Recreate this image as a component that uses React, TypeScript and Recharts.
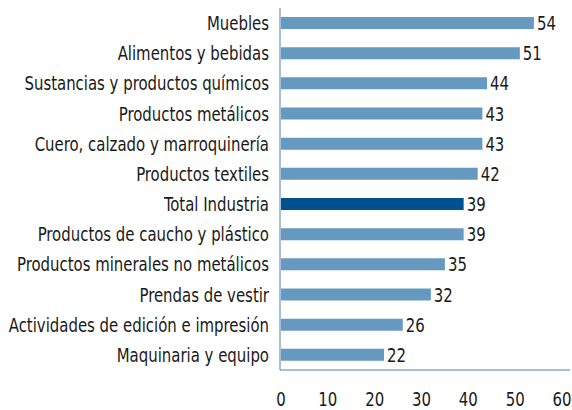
import { BarChart, Bar, XAxis, YAxis, Cell, LabelList } from 'recharts';

const categories = [
  'Muebles',
  'Alimentos y bebidas',
  'Sustancias y productos químicos',
  'Productos metálicos',
  'Cuero, calzado y marroquinería',
  'Productos textiles',
  'Total Industria',
  'Productos de caucho y plástico',
  'Productos minerales no metálicos',
  'Prendas de vestir',
  'Actividades de edición e impresión',
  'Maquinaria y equipo',
];

const values = [54, 51, 44, 43, 43, 42, 39, 39, 35, 32, 26, 22];

const xTicks = [0, 10, 20, 30, 40, 50, 60];

const highlight = 'Total Industria';

const FONT = '"DejaVu Sans Condensed", "DejaVu Sans", sans-serif';
const FONT_SIZE = 20;
const SQUEEZE = 0.83; // the source text is narrower than any installed font
const TEXT_COLOR = '#1a1a1a';
const AXIS_COLOR = '#4a7ebb';

// squeezed text drawn at (x, y)
function Squeezed({ x, y, anchor, children }: any) {
  return (
    <text
      transform={`translate(${x},${y}) scale(${SQUEEZE},1)`}
      textAnchor={anchor}
      dominantBaseline="central"
      fill={TEXT_COLOR}
      fontFamily={FONT}
      fontSize={FONT_SIZE}
    >
      {children}
    </text>
  );
}

const CategoryTick = ({ x, y, payload }: any) => (
  <Squeezed x={x} y={y} anchor="end">{payload.value}</Squeezed>
);

const ValueTick = ({ x, y, payload }: any) => (
  <Squeezed x={x} y={y + 15} anchor="middle">{payload.value}</Squeezed>
);

const renderLabel = (props: any) => {
  const { x, y, width, height, value } = props;
  return (
    <Squeezed x={x + width + 3} y={y + height / 2} anchor="start">{value}</Squeezed>
  );
};

export default function App() {
  const chartData = categories.map((name, i) => ({ name, value: values[i] }));

  return (
    <div style={{ position: 'absolute', left: 0, top: 0, width: 572, height: 410, background: '#fff' }}>
      <BarChart
        width={572}
        height={410}
        data={chartData}
        layout="vertical"
        margin={{ top: 8, right: 2, bottom: 0, left: 0 }}
      >
        <XAxis
          type="number"
          domain={[0, 60]}
          ticks={xTicks}
          interval={0}
          height={40}
          tickLine={false}
          tickMargin={8}
          padding={{ left: 1, right: 8 }}
          axisLine={{ stroke: AXIS_COLOR, strokeWidth: 1 }}
          tick={<ValueTick />}
        />
        <YAxis
          type="category"
          dataKey="name"
          width={280}
          interval={0}
          tickLine={false}
          tickMargin={5}
          axisLine={{ stroke: AXIS_COLOR, strokeWidth: 1 }}
          tick={<CategoryTick />}
        />
        <Bar dataKey="value" barSize={12} isAnimationActive={false}>
          {chartData.map((entry, index) => (
            <Cell key={`cell-${index}`} fill={entry.name === highlight ? '#00518e' : '#6699c0'} />
          ))}
          <LabelList dataKey="value" content={renderLabel} />
        </Bar>
      </BarChart>
    </div>
  );
}
